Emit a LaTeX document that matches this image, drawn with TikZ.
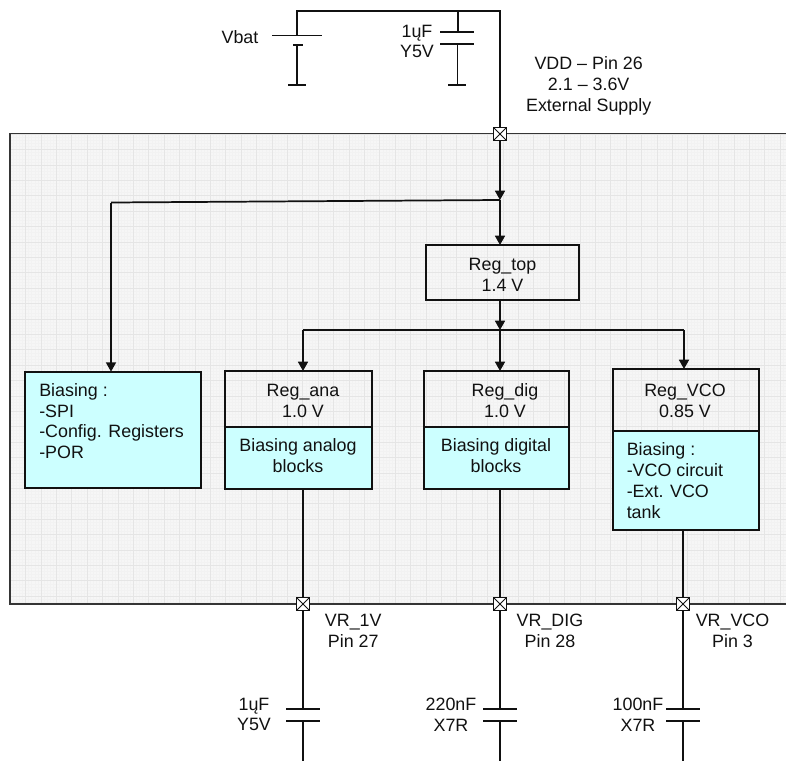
\documentclass[tikz,border=0pt]{standalone}
\usepackage{fontspec}
\setmainfont{Liberation Sans}
\usetikzlibrary{arrows.meta}
\definecolor{panelbg}{HTML}{F6F6F6}
\definecolor{minorgrid}{HTML}{F2F2F2}
\definecolor{majorgrid}{HTML}{E5E5E5}
\definecolor{biasfill}{HTML}{CCFFFF}
\definecolor{ink}{HTML}{111111}
\tikzset{
  wire/.style={draw=ink,line width=1.3pt},
  arrowwire/.style={wire,-{Triangle[length=7pt,width=7.5pt]}},
  regbox/.style={draw=ink,line width=1.3pt,anchor=north west,inner sep=0pt,outer sep=0pt},
  biasbox/.style={draw=ink,line width=1.3pt,fill=biasfill,anchor=north west,inner sep=0pt,outer sep=0pt},
  pad/.style={draw=ink,line width=.6pt,fill=white,minimum size=9.5pt,inner sep=0pt,outer sep=0pt},
  label/.style={align=center,font=\fontsize{13.4}{15.6}\selectfont,text=ink,inner sep=0pt}
}
\newcommand{\padcross}[1]{\draw[ink,line width=.6pt] (#1.north west)--(#1.south east) (#1.north east)--(#1.south west);}
\begin{document}
\begin{tikzpicture}[x=0.75pt,y=-0.75pt]
\useasboundingbox (0,0) rectangle (786,761);
% panel
\fill[panelbg] (10,133.5) rectangle (786,604);
\begin{scope}
\clip (10,133.5) rectangle (786,604);
\foreach \i in {0,...,260} \draw[minorgrid,line width=.2pt] ({10+\i*3.08},134)--({10+\i*3.08},604);
\foreach \i in {0,...,153} \draw[minorgrid,line width=.2pt] (10,{134+\i*3.08})--(786,{134+\i*3.08});
\foreach \i in {0,...,51} \draw[majorgrid,line width=.4pt] ({10+\i*15.4},134)--({10+\i*15.4},604);
\foreach \i in {0,...,31} \draw[majorgrid,line width=.4pt] (10,{134+\i*15.4})--(786,{134+\i*15.4});
\end{scope}
\draw[draw=ink!85,line width=1.1pt] (786,133.5)--(10,133.5)--(10,604)--(786,604);
% supply coordinates
\coordinate (tl) at (297,11);
\coordinate (tc) at (458,11);
\coordinate (tr) at (500,11);
\coordinate (jt) at (500,200);
\coordinate (jb) at (500,330);
\coordinate (bp) at (297,35.5);
% pads
\node[pad] (pvdd) at (500,134) {};
\node[pad] (p1) at (303,604) {};
\node[pad] (p2) at (500,604) {};
\node[pad] (p3) at (683,604) {};
% boxes
\node[regbox,minimum width=114.5pt,minimum height=41.25pt] (regtop) at (426,245) {};
\node[biasbox,minimum width=132pt,minimum height=87.2pt] (bias) at (24.7,371.7) {};
\node[regbox,minimum width=110.25pt,minimum height=41.8pt] (regana) at (225,371) {};
\node[biasbox,minimum width=110.25pt,minimum height=46.7pt] (bana) at (225,426.7) {};
\node[regbox,minimum width=108.75pt,minimum height=41.8pt] (regdig) at (424,371) {};
\node[biasbox,minimum width=108.75pt,minimum height=46.7pt] (bdig) at (424,426.7) {};
\node[regbox,minimum width=109.5pt,minimum height=46.3pt] (regvco) at (613,369) {};
\node[biasbox,minimum width=109.5pt,minimum height=74.5pt] (bvco) at (613,430.7) {};
% box texts
\node[label] (ttop) at (502.5,274.5) {Reg\_top\\1.4 V};
\node[label,align=left,anchor=north west] (tbias) at (39,383) {Biasing :\\-SPI\\-Config. Registers\\-POR};
\node[label] (tana) at (303,401) {Reg\_ana\\1.0 V};
\node[label] (tbana) at (298,455.5) {Biasing analog\\blocks};
\node[label] (tdig) at (505,401) {Reg\_dig\\1.0 V};
\node[label] (tbdig) at (496,455.5) {Biasing digital\\blocks};
\node[label] (tvco) at (685,400.5) {Reg\_VCO\\0.85 V};
\node[label,align=left,anchor=north west] (tbvco) at (626.5,442.5) {Biasing :\\-VCO circuit\\-Ext. VCO\\tank};
% supply wires
\draw[wire] (bp)--(tl)--(tr)--(pvdd);
\draw[wire] (tc)--(458,32);
% battery
\draw[wire] (272,35.5)--(322,35.5);
\draw[draw=ink,line width=1.8pt] (293,45)--(302.5,45);
\draw[wire] (297,45)--(297,85);
\draw[wire] (288,85)--(306,85);
% top cap
\draw[wire] (440,32)--(474,32) (440,43.7)--(474,43.7);
\draw[wire] (457.5,43.7)--(457.5,85) (448,85)--(466,85);
\node[label] (tvbat) at (240,37) {Vbat};
\node[label] (tcap) at (417,41.5) {1ųF\\Y5V};
\node[label] (tvdd) at (588.7,86) {VDD – Pin 26\\2.1 – 3.6V\\External Supply};
% arrows
\draw[arrowwire] (pvdd)--(jt);
\draw[arrowwire] (jt)--(regtop.north-|jt);
\draw[wire] (jt)--(111,202.5);
\draw[arrowwire] (111,202.5)--(bias.north-|111,0);
\draw[arrowwire] (regtop.south-|jb)--(jb);
\draw[wire] (303,330)--(684,330);
\draw[arrowwire] (303,330)--(303,371);
\draw[arrowwire] (jb)--(500,371);
\draw[arrowwire] (684,330)--(684,369);
% outputs
\draw[wire] (303,489)--(p1);
\draw[wire] (500,489)--(p2);
\draw[wire] (683,530)--(p3);
\foreach \x/\n in {303/p1,500/p2,683/p3}{
  \draw[wire] (\n)--(\x,709);
  \draw[wire] (\x-17,709)--(\x+17,709) (\x-17,721)--(\x+17,721);
  \draw[wire] (\x,721)--(\x,761);
}
\node[pad] at (pvdd) {}; \padcross{pvdd}
\node[pad] at (p1) {}; \padcross{p1}
\node[pad] at (p2) {}; \padcross{p2}
\node[pad] at (p3) {}; \padcross{p3}
% output labels
\node[label] (l1) at (353.3,631) {VR\_1V\\Pin 27};
\node[label] (l2) at (550,631) {VR\_DIG\\Pin 28};
\node[label] (l3) at (732.5,631) {VR\_VCO\\Pin 3};
\node[label] (c1) at (254,714.5) {1ųF\\Y5V};
\node[label] (c2) at (451,714.5) {220nF\\X7R};
\node[label] (c3) at (638,714.5) {100nF\\X7R};
\end{tikzpicture}
\end{document}
